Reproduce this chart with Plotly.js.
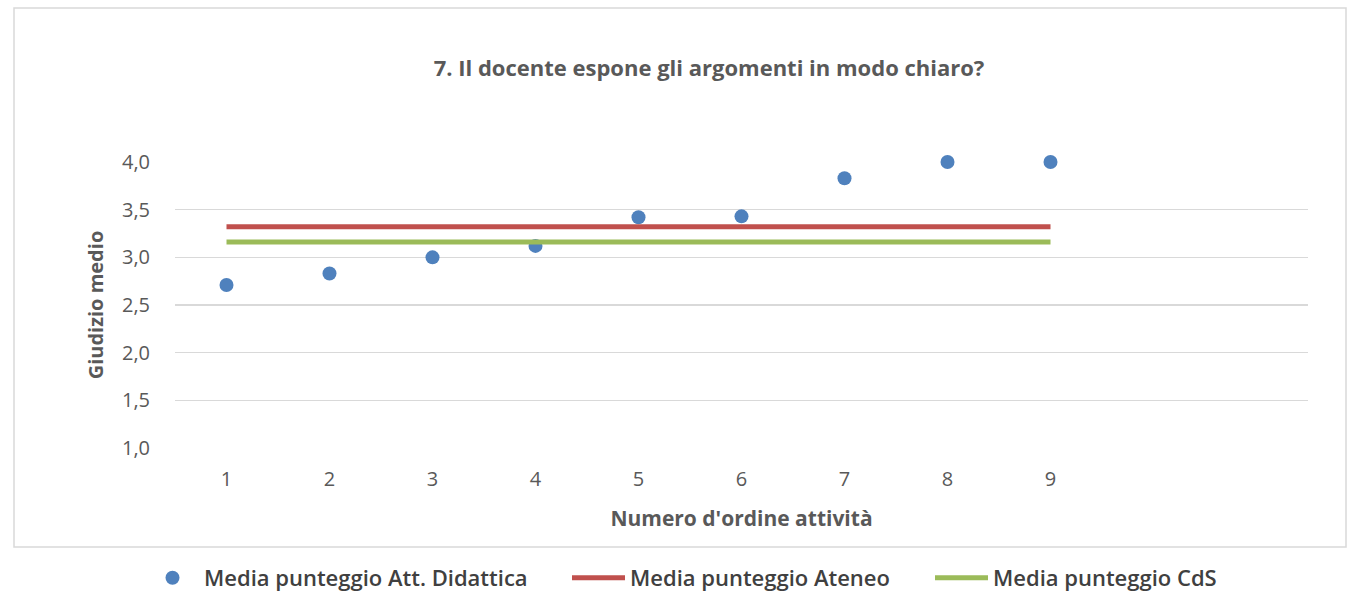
<!DOCTYPE html>
<html>
<head>
<meta charset="utf-8">
<script src="https://cdn.plot.ly/plotly-3.0.1.min.js"></script>
<style>html,body{margin:0;padding:0;background:#fff;}#chart{width:1347px;height:616px;}</style>
</head>
<body>
<div id="chart"></div>
<script>
const categories = [1, 2, 3, 4, 5, 6, 7, 8, 9];
const tickLabels = ['1', '2', '3', '4', '5', '6', '7', '8', '9'];
const mediaAttDidattica = [2.71, 2.83, 3.00, 3.12, 3.42, 3.43, 3.83, 4.00, 4.00];
const mediaAteneo = [3.32, 3.32, 3.32, 3.32, 3.32, 3.32, 3.32, 3.32, 3.32];
const mediaCdS = [3.16, 3.16, 3.16, 3.16, 3.16, 3.16, 3.16, 3.16, 3.16];
const yTicks = [1.0, 1.5, 2.0, 2.5, 3.0, 3.5, 4.0];

const fontFam = '"Open Sans", sans-serif';
const grey = '#595959';
const PW = 1133, PB = 448, PH = 286; // plot width, plot bottom px, plot height
const px = v => (v - 175) / PW;
const py = v => (PB - v) / PH;

const traces = [
  {x: categories, y: mediaAttDidattica, type: 'scatter', mode: 'markers',
   name: 'Media punteggio Att. Didattica', legend: 'legend',
   cliponaxis: false,
   marker: {color: '#4F81BD', size: 14}},
  {x: categories, y: mediaAteneo, type: 'scatter', mode: 'lines',
   name: 'Media punteggio Ateneo', legend: 'legend2',
   line: {color: '#C0504D', width: 5}},
  {x: categories, y: mediaCdS, type: 'scatter', mode: 'lines',
   name: 'Media punteggio CdS', legend: 'legend3',
   line: {color: '#9BBB59', width: 5}}
];

const legFont = {size: 22, color: '#404040', family: fontFam, weight: 600};
const legBase = {orientation: 'h', xanchor: 'left', yanchor: 'middle', y: py(578),
                 font: legFont, itemwidth: 53, borderwidth: 0, bgcolor: 'rgba(0,0,0,0)'};

const layout = {
  width: 1347, height: 616,
  margin: {l: 175, r: 39, t: 162, b: 168},
  paper_bgcolor: '#fff', plot_bgcolor: '#fff',
  separators: ',.',
  font: {family: fontFam, color: grey, size: 20},
  title: {text: '<b>7. Il docente espone gli argomenti in modo chiaro?</b>',
          font: {family: fontFam, size: 22, color: grey},
          x: 709 / 1347, xanchor: 'center', xref: 'container', y: 1 - 68 / 616, yanchor: 'middle'},
  xaxis: {range: [0.5, 11.5], tickvals: categories, ticktext: tickLabels,
          showgrid: false, zeroline: false, showline: false,
          ticks: 'outside', ticklen: 13, tickcolor: 'rgba(0,0,0,0)',
          tickfont: {size: 20, color: grey},
          title: {text: '<b>Numero d\'ordine attività</b>', font: {size: 21, color: grey}, standoff: 20}},
  yaxis: {range: [1, 4], tickvals: yTicks, tickformat: '.1f',
          showgrid: true, gridcolor: '#D9D9D9', gridwidth: 1.5,
          zeroline: false, showline: false,
          ticks: 'outside', ticklen: 20, tickcolor: 'rgba(0,0,0,0)',
          tickfont: {size: 20, color: grey},
          title: {text: '<b>Giudizio medio</b>', font: {size: 20, color: grey}, standoff: 12}},
  showlegend: true,
  legend: Object.assign({}, legBase, {x: px(141)}),
  legend2: Object.assign({}, legBase, {x: px(567)}),
  legend3: Object.assign({}, legBase, {x: px(930)}),
  shapes: [
    {type: 'rect', xref: 'paper', yref: 'paper',
     x0: px(14), x1: px(1346), y0: py(547), y1: py(8),
     line: {color: '#D9D9D9', width: 1.5}, fillcolor: 'rgba(0,0,0,0)', layer: 'below'}
  ]
};

Plotly.newPlot('chart', traces, layout, {displayModeBar: false, staticPlot: true});
</script>
</body>
</html>
